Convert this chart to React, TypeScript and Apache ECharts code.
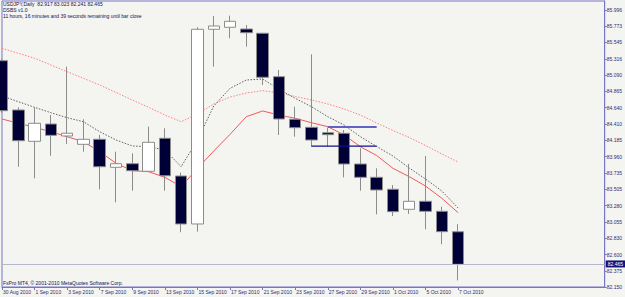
import React, { useEffect, useRef } from "react";
import * as echarts from "echarts";

const dates = [
  "30 Aug 2010", "31 Aug 2010", "1 Sep 2010", "2 Sep 2010", "3 Sep 2010", "6 Sep 2010",
  "7 Sep 2010", "8 Sep 2010", "9 Sep 2010", "10 Sep 2010", "13 Sep 2010", "14 Sep 2010",
  "15 Sep 2010", "16 Sep 2010", "17 Sep 2010", "20 Sep 2010", "21 Sep 2010", "22 Sep 2010",
  "23 Sep 2010", "24 Sep 2010", "27 Sep 2010", "28 Sep 2010", "29 Sep 2010", "30 Sep 2010",
  "1 Oct 2010", "4 Oct 2010", "5 Oct 2010", "6 Oct 2010", "7 Oct 2010",
];

const opens = [
  85.292, 84.608, 84.173, 84.413, 84.247, 84.131, 84.201, 83.812, 83.862, 83.757,
  84.215, 83.691, 83.025, 85.728, 85.756, 85.732, 85.673, 85.070, 84.479, 84.367,
  84.292, 84.284, 83.858, 83.673, 83.507, 83.229, 83.340, 83.201, 82.917,
];
const highs = [
  85.320, 84.645, 84.645, 84.538, 85.209, 84.479, 84.261, 84.029, 84.006, 84.376,
  84.354, 83.737, 85.756, 85.913, 85.918, 85.788, 85.680, 85.163, 84.653, 85.381,
  84.362, 84.330, 84.076, 83.798, 83.566, 83.858, 83.969, 83.265, 83.023,
];
const lows = [
  84.570, 83.820, 83.659, 83.973, 84.136, 84.029, 83.507, 83.326, 83.487, 83.751,
  83.487, 82.910, 82.918, 85.209, 85.603, 85.487, 84.955, 84.261, 84.237, 84.098,
  84.098, 83.673, 83.487, 83.159, 83.136, 83.164, 82.951, 82.743, 82.241,
];
const closes = [
  84.598, 84.181, 84.423, 84.256, 84.285, 84.201, 83.820, 83.862, 83.765, 84.159,
  83.695, 83.025, 85.728, 85.774, 85.839, 85.681, 85.062, 84.483, 84.362, 84.191,
  84.265, 83.858, 83.673, 83.497, 83.196, 83.340, 83.201, 82.918, 82.465,
];

// red solid moving average
const maRed = [
  84.483, 84.423, 84.367, 84.306, 84.237, 84.167, 84.029, 83.868, 83.765, 83.751,
  83.673, 83.543, 83.798, 84.038, 84.270, 84.515, 84.594, 84.538, 84.492, 84.431,
  84.376, 84.261, 84.098, 83.976, 83.798, 83.682, 83.552, 83.382, 83.182,
];
// dark dotted moving average
const maGray = [
  84.802, 84.723, 84.645, 84.570, 84.501, 84.445, 84.306, 84.191, 84.108, 84.098,
  84.052, 83.820, 84.192, 84.663, 84.909, 85.024, 85.038, 84.895, 84.770, 84.653,
  84.515, 84.399, 84.237, 84.101, 83.969, 83.802, 83.650, 83.483, 83.247,
];
// light red dotted moving average
const maUpper = [
  85.464, 85.395, 85.326, 85.233, 85.139, 85.048, 84.955, 84.851, 84.747, 84.645,
  84.538, 84.445, 84.552, 84.691, 84.788, 84.844, 84.876, 84.844, 84.795, 84.747,
  84.691, 84.622, 84.538, 84.427, 84.323, 84.226, 84.115, 83.997, 83.886,
];

const upperLevel = 84.371;
const upperLevelFrom = 20;
const lowerLevel = 84.107;
const lowerLevelFrom = 19;
const levelTo = 23;

const yTicks = [
  85.996, 85.773, 85.545, 85.316, 85.090, 84.865, 84.640, 84.410, 84.185,
  83.960, 83.735, 83.505, 83.280, 83.055, 82.830, 82.600, 82.375, 82.150,
];

const emptySlots = 9;
const headerLines = [
  "USDJPY,Daily  " + [opens[28], highs[28], lows[28], closes[28]].map((v) => v.toFixed(3)).join(" "),
  "DSBS v1.0",
  "11 hours, 16 minutes and 39 seconds remaining until bar close",
];
const copyright = "FxPro MT4, \u00a9 2001-2010 MetaQuotes Software Corp.";

const FONT = "Liberation Sans, Arial, sans-serif";
const AXIS = "#7676c4";
const LABEL = "#2c2c78";
const FS = 5;

export default function App() {
  const ref = useRef<HTMLDivElement>(null);

  useEffect(() => {
    document.body.style.margin = "0";
    if (!ref.current) return;
    const chart = echarts.init(ref.current, undefined, { renderer: "svg" });
    const categories = [...dates, ...Array(emptySlots).fill("")];
    const last = closes.length - 1;
    const levelSeries = (value: number, from: number) =>
      categories.map((_, i) => (i >= from && i <= levelTo ? value : null));
    const showIdx = (i: number, v: string) => i % 2 === 0 && v !== "";

    chart.setOption({
      animation: false,
      backgroundColor: "#f4f4f1",
      textStyle: { fontFamily: FONT },
      grid: {
        left: 1.5,
        right: 19.5,
        top: 1,
        bottom: 10,
        show: true,
        borderColor: AXIS,
        borderWidth: 1,
        backgroundColor: "transparent",
      },
      xAxis: {
        type: "category",
        data: categories,
        boundaryGap: false,
        axisLine: { lineStyle: { color: AXIS, width: 1 } },
        axisTick: { show: true, interval: showIdx, length: 3, lineStyle: { color: AXIS } },
        axisLabel: {
          interval: showIdx,
          align: "left",
          padding: [0, 0, 0, 1],
          margin: 2,
          fontSize: FS,
          color: LABEL,
          fontFamily: FONT,
          showMinLabel: true,
          hideOverlap: false,
        },
        splitLine: { show: false },
      },
      yAxis: {
        type: "value",
        position: "right",
        min: 82.15,
        max: 86.121,
        scale: true,
        axisLine: { show: true, lineStyle: { color: AXIS, width: 1 } },
        axisTick: { show: true, length: 2, customValues: yTicks, lineStyle: { color: AXIS } },
        axisLabel: {
          customValues: yTicks,
          formatter: (v: number) => v.toFixed(3),
          fontSize: FS,
          color: LABEL,
          margin: 2,
          fontFamily: FONT,
        },
        splitLine: { show: false },
      },
      graphic: [
        ...headerLines.map((t, i) => ({
          type: "text",
          left: 3,
          top: 1.5 + i * 6,
          style: { text: t, fontSize: FS, fill: "#121250", fontFamily: FONT },
        })),
        {
          type: "text",
          left: 3,
          top: 280,
          style: { text: copyright, fontSize: FS, fill: "#121250", fontFamily: FONT },
        },
      ],
      series: [
        {
          type: "line",
          data: maUpper,
          showSymbol: false,
          lineStyle: { color: "#ff8080", width: 1, type: [1.5, 1.5] },
          z: 2,
          silent: true,
        },
        {
          type: "line",
          data: maGray,
          showSymbol: false,
          lineStyle: { color: "#606060", width: 1, type: [1.5, 1.5] },
          z: 2,
          silent: true,
        },
        {
          type: "line",
          data: maRed,
          showSymbol: false,
          lineStyle: { color: "#f05a5a", width: 1 },
          z: 2,
          silent: true,
        },
        {
          type: "candlestick",
          data: dates.map((_, i) => [opens[i], closes[i], lows[i], highs[i]]),
          barWidth: 12,
          clip: false,
          z: 3,
          itemStyle: {
            color: "#ffffff",
            color0: "#000036",
            borderColor: "#8c8c8c",
            borderColor0: "#8c8c8c",
            borderWidth: 1,
          },
          markLine: {
            silent: true,
            symbol: "none",
            lineStyle: { color: "#b6b6cc", type: "solid", width: 1 },
            label: {
              position: "end",
              distance: 1,
              formatter: () => closes[last].toFixed(3),
              backgroundColor: "#12127a",
              color: "#ffffff",
              fontSize: FS,
              padding: [1, 2, 1, 2],
              fontFamily: FONT,
            },
            data: [{ yAxis: closes[last] }],
          },
        },
        {
          type: "line",
          data: levelSeries(upperLevel, upperLevelFrom),
          showSymbol: false,
          lineStyle: { color: "#6262c4", width: 2 },
          z: 4,
          silent: true,
        },
        {
          type: "line",
          data: levelSeries(lowerLevel, lowerLevelFrom),
          showSymbol: false,
          lineStyle: { color: "#10108a", width: 1.2 },
          z: 4,
          silent: true,
        },
      ],
    });
    return () => chart.dispose();
  }, []);

  return <div ref={ref} style={{ width: 625, height: 297 }} />;
}
